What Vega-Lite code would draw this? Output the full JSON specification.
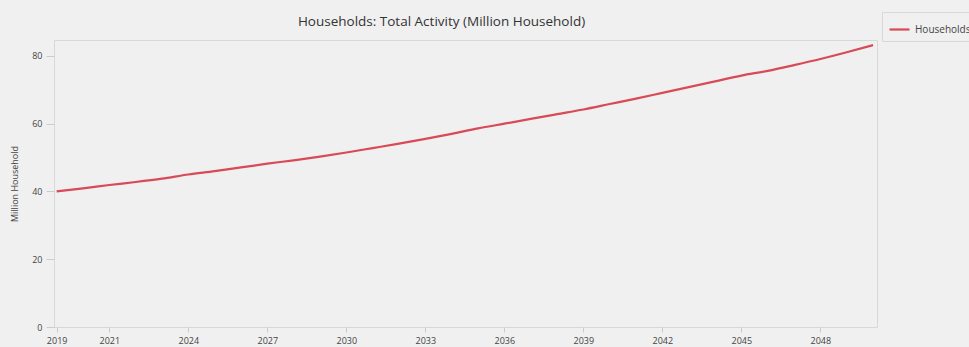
{
  "$schema": "https://vega.github.io/schema/vega-lite/v6.json",
  "autosize": {"type": "none"},
  "padding": {"left": 54, "top": 40, "right": 92, "bottom": 20},
  "width": 823,
  "height": 287,
  "background": "#f0f0f0",
  "title": {
    "text": "Households: Total Activity (Million Household)",
    "anchor": "middle",
    "dx": -24,
    "dy": 28,
    "offset": 11,
    "fontSize": 13.5,
    "fontWeight": "normal",
    "font": "Open Sans",
    "color": "#333333"
  },
  "data": {
    "values": [
      {"year": 2019, "value": 40.0, "series": "Households"},
      {"year": 2020, "value": 40.9, "series": "Households"},
      {"year": 2021, "value": 41.9, "series": "Households"},
      {"year": 2022, "value": 42.8, "series": "Households"},
      {"year": 2023, "value": 43.8, "series": "Households"},
      {"year": 2024, "value": 45.0, "series": "Households"},
      {"year": 2025, "value": 46.0, "series": "Households"},
      {"year": 2026, "value": 47.1, "series": "Households"},
      {"year": 2027, "value": 48.2, "series": "Households"},
      {"year": 2028, "value": 49.2, "series": "Households"},
      {"year": 2029, "value": 50.3, "series": "Households"},
      {"year": 2030, "value": 51.5, "series": "Households"},
      {"year": 2031, "value": 52.8, "series": "Households"},
      {"year": 2032, "value": 54.1, "series": "Households"},
      {"year": 2033, "value": 55.5, "series": "Households"},
      {"year": 2034, "value": 57.0, "series": "Households"},
      {"year": 2035, "value": 58.6, "series": "Households"},
      {"year": 2036, "value": 60.0, "series": "Households"},
      {"year": 2037, "value": 61.4, "series": "Households"},
      {"year": 2038, "value": 62.8, "series": "Households"},
      {"year": 2039, "value": 64.2, "series": "Households"},
      {"year": 2040, "value": 65.8, "series": "Households"},
      {"year": 2041, "value": 67.4, "series": "Households"},
      {"year": 2042, "value": 69.1, "series": "Households"},
      {"year": 2043, "value": 70.8, "series": "Households"},
      {"year": 2044, "value": 72.5, "series": "Households"},
      {"year": 2045, "value": 74.2, "series": "Households"},
      {"year": 2046, "value": 75.6, "series": "Households"},
      {"year": 2047, "value": 77.3, "series": "Households"},
      {"year": 2048, "value": 79.1, "series": "Households"},
      {"year": 2049, "value": 81.1, "series": "Households"},
      {"year": 2050, "value": 83.2, "series": "Households"}
    ]
  },
  "mark": {"type": "line", "strokeWidth": 2.2, "interpolate": "monotone"},
  "encoding": {
    "x": {
      "field": "year",
      "type": "quantitative",
      "scale": {"domain": [2018.9, 2050.15], "nice": false, "zero": false},
      "axis": {
        "title": null,
        "values": [2019, 2021, 2024, 2027, 2030, 2033, 2036, 2039, 2042, 2045, 2048],
        "format": "d",
        "grid": false,
        "domain": false,
        "tickColor": "#cccccc",
        "tickSize": 5,
        "labelPadding": 4,
        "labelFontSize": 9,
        "labelFont": "Open Sans",
        "labelColor": "#444444"
      }
    },
    "y": {
      "field": "value",
      "type": "quantitative",
      "scale": {"domain": [0, 84.7], "nice": false},
      "axis": {
        "title": "Million Household",
        "values": [0, 20, 40, 60, 80],
        "grid": false,
        "domain": false,
        "tickColor": "#cccccc",
        "tickSize": 8,
        "labelPadding": 4,
        "labelFontSize": 9,
        "labelFont": "Open Sans",
        "labelColor": "#444444",
        "titleFontSize": 9,
        "titleFontWeight": "normal",
        "titleFont": "Open Sans",
        "titleColor": "#444444",
        "titlePadding": 12
      }
    },
    "color": {
      "field": "series",
      "type": "nominal",
      "scale": {"range": ["#d84a55"]},
      "legend": {
        "title": null,
        "orient": "none",
        "legendX": 828,
        "legendY": -28,
        "symbolType": "stroke",
        "symbolStrokeWidth": 2.2,
        "symbolSize": 400,
        "labelFontSize": 10,
        "labelFont": "Open Sans",
        "labelColor": "#444444",
        "strokeColor": "#d8d8d8",
        "padding": 6
      }
    }
  },
  "config": {
    "view": {"stroke": "#d8d8d8", "fill": "#f0f0f0"}
  }
}
